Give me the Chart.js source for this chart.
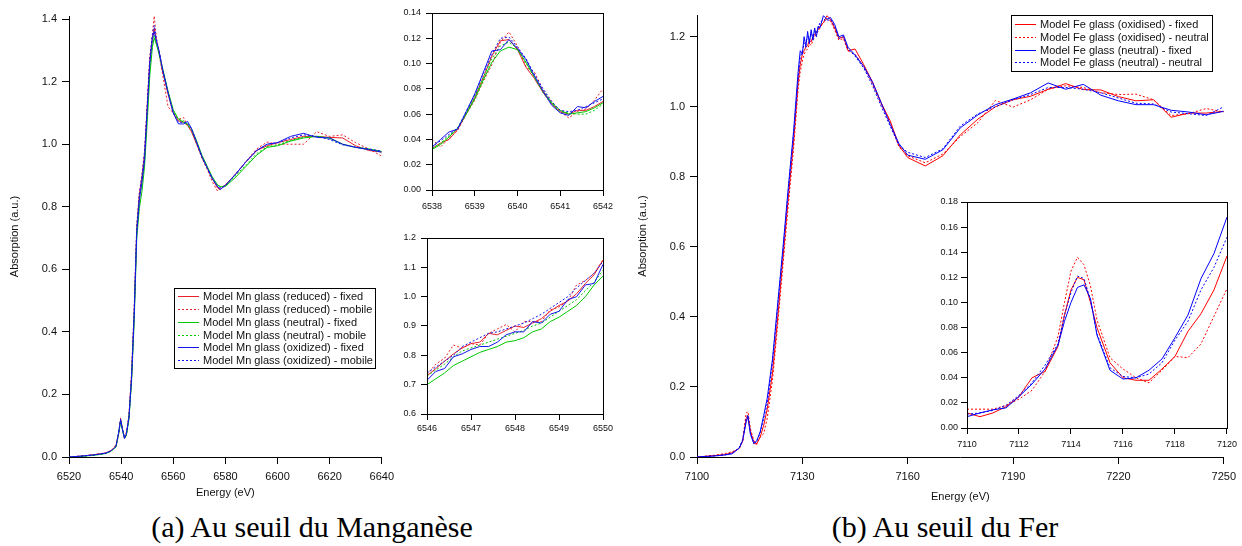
<!DOCTYPE html>
<html>
<head>
<meta charset="utf-8">
<script src="https://cdn.jsdelivr.net/npm/chart.js@4.4.1/dist/chart.umd.min.js"></script>
<style>
  body { margin: 0; background: #fff; }
  #page { position: relative; width: 1242px; height: 546px; overflow: hidden; background: #fff; }
  canvas { position: absolute; }
  .cap { position: absolute; top: 512px; font-family: "Liberation Serif", serif; font-size: 30px; line-height: 30px; color: #000; text-align: center; }
</style>
</head>
<body>
<div id="page">
  <canvas id="mnMain" width="400" height="510" style="left:0;top:0"></canvas>
  <canvas id="mnPre" width="230" height="215" style="left:390px;top:0"></canvas>
  <canvas id="mnEdge" width="230" height="215" style="left:390px;top:225px"></canvas>
  <canvas id="feMain" width="612" height="510" style="left:630px;top:0"></canvas>
  <canvas id="fePre" width="322" height="262" style="left:920px;top:190px"></canvas>
  <div class="cap" style="left:0;width:624px">(a) Au seuil du Manganèse</div>
  <div class="cap" style="left:644px;width:602px">(b) Au seuil du Fer</div>
</div>
<script>
// ---- Mn K-edge, full range ----
const mnE = [6520, 6525, 6530, 6534, 6536, 6537, 6538, 6539, 6539.8, 6540.5, 6541.3, 6542, 6543, 6544, 6545, 6546, 6547, 6548, 6549, 6550,
  6551, 6552, 6552.7, 6553.5, 6554.5, 6556, 6558, 6560, 6562, 6564, 6565.5, 6567, 6569, 6571, 6573, 6575, 6577, 6578, 6580, 6584,
  6588, 6592, 6596, 6600, 6605, 6610, 6615, 6620, 6625, 6630, 6635, 6640];
const mnRedFixed = [0, 0.003, 0.008, 0.013, 0.02, 0.027, 0.033, 0.073, 0.119, 0.09, 0.061, 0.072, 0.13, 0.26, 0.46, 0.73, 0.84, 0.90, 0.97, 1.12,
  1.27, 1.34, 1.37, 1.33, 1.30, 1.23, 1.16, 1.10, 1.075, 1.07, 1.06, 1.04, 1.0, 0.96, 0.925, 0.89, 0.86, 0.855, 0.87, 0.905,
  0.945, 0.98, 0.995, 1.005, 1.015, 1.025, 1.025, 1.022, 1.02, 0.995, 0.98, 0.975];
const mnRedMobile = [0, 0.003, 0.008, 0.013, 0.02, 0.027, 0.04, 0.071, 0.125, 0.09, 0.058, 0.08, 0.13, 0.27, 0.47, 0.735, 0.84, 0.88, 0.965, 1.125,
  1.28, 1.35, 1.41, 1.34, 1.29, 1.22, 1.12, 1.10, 1.08, 1.085, 1.06, 1.045, 1.0, 0.955, 0.92, 0.88, 0.85, 0.858, 0.87, 0.905,
  0.945, 0.985, 1.007, 1.0, 1.0, 1.0, 1.04, 1.025, 1.03, 1.005, 0.985, 0.962];
const mnGreenFixed = [0, 0.002, 0.006, 0.011, 0.018, 0.025, 0.032, 0.072, 0.113, 0.088, 0.06, 0.069, 0.12, 0.24, 0.43, 0.70, 0.795, 0.85, 0.93, 1.07,
  1.22, 1.31, 1.34, 1.32, 1.29, 1.24, 1.17, 1.11, 1.08, 1.07, 1.065, 1.05, 1.01, 0.965, 0.93, 0.895, 0.87, 0.865, 0.865, 0.895,
  0.93, 0.965, 0.99, 0.995, 1.01, 1.02, 1.025, 1.02, 1.0, 0.99, 0.985, 0.977];
const mnGreenMobile = [0, 0.002, 0.006, 0.011, 0.018, 0.025, 0.033, 0.072, 0.117, 0.088, 0.061, 0.068, 0.125, 0.25, 0.45, 0.73, 0.825, 0.875, 0.95, 1.09,
  1.24, 1.32, 1.35, 1.33, 1.29, 1.235, 1.165, 1.105, 1.08, 1.075, 1.06, 1.045, 1.005, 0.96, 0.925, 0.89, 0.868, 0.862, 0.868, 0.9,
  0.935, 0.97, 0.992, 0.998, 1.012, 1.022, 1.026, 1.018, 1.0, 0.99, 0.983, 0.975];
const mnBlueFixed = [0, 0.003, 0.007, 0.012, 0.019, 0.026, 0.034, 0.076, 0.119, 0.089, 0.059, 0.074, 0.125, 0.25, 0.45, 0.715, 0.82, 0.88, 0.95, 1.11,
  1.26, 1.34, 1.36, 1.33, 1.30, 1.235, 1.165, 1.10, 1.065, 1.065, 1.073, 1.05, 1.005, 0.96, 0.925, 0.89, 0.865, 0.855, 0.868, 0.905,
  0.945, 0.98, 1.0, 1.005, 1.025, 1.035, 1.022, 1.02, 1.0, 0.99, 0.983, 0.975];
const mnBlueMobile = [0, 0.003, 0.007, 0.012, 0.019, 0.026, 0.034, 0.075, 0.121, 0.09, 0.062, 0.072, 0.13, 0.26, 0.47, 0.74, 0.845, 0.90, 0.98, 1.12,
  1.27, 1.35, 1.38, 1.34, 1.30, 1.235, 1.165, 1.10, 1.07, 1.07, 1.068, 1.05, 1.005, 0.96, 0.925, 0.89, 0.865, 0.86, 0.868, 0.905,
  0.945, 0.98, 1.0, 1.005, 1.02, 1.03, 1.025, 1.015, 0.998, 0.99, 0.985, 0.978];

// ---- Mn pre-edge zoom ----
const mnPreE = [6538, 6538.2, 6538.4, 6538.6, 6538.8, 6539, 6539.2, 6539.4, 6539.6, 6539.8, 6540, 6540.2, 6540.4, 6540.6, 6540.8, 6541, 6541.2, 6541.4, 6541.6, 6541.8, 6542];
const preRedFixed = [0.033, 0.037, 0.040, 0.048, 0.060, 0.073, 0.089, 0.106, 0.118, 0.119, 0.111, 0.097, 0.088, 0.077, 0.068, 0.062, 0.060, 0.063, 0.063, 0.066, 0.070];
const preRedMobile = [0.040, 0.034, 0.041, 0.047, 0.060, 0.071, 0.086, 0.099, 0.117, 0.125, 0.114, 0.097, 0.093, 0.079, 0.070, 0.062, 0.057, 0.062, 0.064, 0.071, 0.080];
const preGreenFixed = [0.032, 0.036, 0.042, 0.049, 0.060, 0.072, 0.087, 0.101, 0.110, 0.113, 0.111, 0.101, 0.089, 0.078, 0.069, 0.063, 0.060, 0.061, 0.062, 0.065, 0.069];
const preGreenMobile = [0.033, 0.037, 0.043, 0.049, 0.061, 0.074, 0.089, 0.104, 0.114, 0.117, 0.112, 0.100, 0.089, 0.077, 0.068, 0.062, 0.061, 0.060, 0.060, 0.063, 0.068];
const preBlueFixed = [0.034, 0.040, 0.046, 0.048, 0.062, 0.076, 0.093, 0.110, 0.111, 0.119, 0.112, 0.103, 0.090, 0.078, 0.067, 0.061, 0.059, 0.066, 0.065, 0.070, 0.074];
const preBlueMobile = [0.034, 0.039, 0.044, 0.049, 0.062, 0.075, 0.092, 0.107, 0.120, 0.121, 0.113, 0.104, 0.091, 0.080, 0.070, 0.063, 0.062, 0.063, 0.066, 0.069, 0.072];

// ---- Mn edge zoom ----
const mnEdgeE = [6546, 6546.2, 6546.4, 6546.6, 6546.8, 6547, 6547.2, 6547.4, 6547.6, 6547.8, 6548, 6548.2, 6548.4, 6548.6, 6548.8, 6549, 6549.2, 6549.4, 6549.6, 6549.8, 6550];
const edgeRedFixed = [0.73, 0.755, 0.78, 0.805, 0.825, 0.84, 0.845, 0.875, 0.87, 0.885, 0.9, 0.895, 0.91, 0.925, 0.95, 0.97, 0.985, 1.01, 1.045, 1.075, 1.125];
const edgeRedMobile = [0.735, 0.77, 0.79, 0.835, 0.825, 0.84, 0.835, 0.875, 0.89, 0.905, 0.88, 0.915, 0.915, 0.915, 0.955, 0.965, 0.985, 1.04, 1.055, 1.08, 1.125];
const edgeGreenFixed = [0.70, 0.72, 0.74, 0.765, 0.78, 0.795, 0.81, 0.82, 0.83, 0.845, 0.85, 0.86, 0.88, 0.89, 0.915, 0.93, 0.95, 0.97, 1.0, 1.04, 1.07];
const edgeGreenMobile = [0.73, 0.75, 0.77, 0.795, 0.815, 0.825, 0.835, 0.845, 0.855, 0.865, 0.875, 0.885, 0.9, 0.91, 0.93, 0.95, 0.97, 0.99, 1.02, 1.05, 1.09];
const edgeBlueFixed = [0.715, 0.745, 0.755, 0.795, 0.805, 0.82, 0.83, 0.83, 0.845, 0.87, 0.88, 0.88, 0.915, 0.91, 0.94, 0.95, 0.99, 1.0, 1.04, 1.045, 1.11];
const edgeBlueMobile = [0.74, 0.76, 0.78, 0.80, 0.83, 0.845, 0.86, 0.875, 0.88, 0.89, 0.9, 0.91, 0.925, 0.94, 0.96, 0.98, 1.0, 1.03, 1.055, 1.08, 1.12];

// ---- Fe K-edge, full range ----
const feE = [7100, 7105, 7108, 7110, 7112, 7113, 7114, 7114.5, 7115.2, 7116.2, 7117, 7118, 7119, 7120, 7121.5, 7123, 7124.5, 7126, 7127.5, 7128.8,
  7129.4, 7130, 7130.5, 7131, 7131.5, 7132, 7132.5, 7133, 7133.5, 7134, 7134.5, 7135, 7136, 7137, 7138, 7139.2, 7140.4, 7141.7, 7143, 7145,
  7147.5, 7150, 7152.5, 7155, 7157.5, 7160, 7165, 7170, 7175, 7180, 7185, 7190, 7195, 7200, 7205, 7210, 7215, 7220, 7225, 7230,
  7235, 7240, 7245, 7250];
const feOxFixed = [0, 0.004, 0.007, 0.012, 0.025, 0.045, 0.11, 0.118, 0.075, 0.038, 0.038, 0.057, 0.091, 0.137, 0.24, 0.40, 0.57, 0.74, 0.90, 1.07,
  1.12, 1.15, 1.16, 1.17, 1.175, 1.19, 1.185, 1.2, 1.205, 1.215, 1.22, 1.23, 1.24, 1.26, 1.25, 1.225, 1.195, 1.2, 1.16, 1.165,
  1.12, 1.07, 1.01, 0.96, 0.89, 0.855, 0.831, 0.86, 0.92, 0.965, 1.0, 1.02, 1.03, 1.05, 1.066, 1.049, 1.048, 1.029, 1.017, 1.02,
  0.97, 0.982, 0.982, 0.987];
const feOxNeutral = [0, 0.005, 0.01, 0.015, 0.023, 0.045, 0.125, 0.13, 0.08, 0.047, 0.036, 0.057, 0.067, 0.111, 0.22, 0.38, 0.55, 0.72, 0.88, 1.05,
  1.1, 1.13, 1.15, 1.16, 1.165, 1.18, 1.175, 1.19, 1.2, 1.21, 1.215, 1.225, 1.24, 1.25, 1.245, 1.22, 1.19, 1.195, 1.16, 1.15,
  1.115, 1.065, 1.005, 0.955, 0.885, 0.86, 0.84, 0.865, 0.915, 0.955, 1.018, 0.999, 1.02, 1.05, 1.06, 1.055, 1.04, 1.035, 1.036, 1.02,
  0.975, 0.98, 0.995, 0.985];
const feNeFixed = [0, 0.003, 0.006, 0.009, 0.025, 0.047, 0.1, 0.114, 0.065, 0.038, 0.046, 0.072, 0.119, 0.168, 0.28, 0.44, 0.6, 0.77, 0.93, 1.1,
  1.16, 1.15, 1.2, 1.17, 1.215, 1.18, 1.22, 1.19, 1.225, 1.2, 1.23, 1.225, 1.26, 1.25, 1.255, 1.235, 1.2, 1.205, 1.17, 1.148,
  1.115, 1.07, 1.01, 0.95, 0.895, 0.862, 0.85, 0.877, 0.94, 0.977, 1.006, 1.022, 1.04, 1.068, 1.05, 1.064, 1.033, 1.017, 1.006, 1.006,
  0.99, 0.985, 0.977, 0.987];
const feNeNeutral = [0, 0.003, 0.006, 0.011, 0.026, 0.05, 0.108, 0.121, 0.07, 0.041, 0.043, 0.07, 0.11, 0.152, 0.27, 0.43, 0.59, 0.76, 0.92, 1.08,
  1.14, 1.16, 1.18, 1.185, 1.2, 1.19, 1.21, 1.2, 1.215, 1.21, 1.225, 1.24, 1.25, 1.245, 1.25, 1.23, 1.195, 1.2, 1.165, 1.145,
  1.11, 1.06, 1.0, 0.945, 0.89, 0.87, 0.855, 0.88, 0.945, 0.98, 1.0, 1.02, 1.035, 1.055, 1.055, 1.05, 1.04, 1.025, 1.01, 1.008,
  0.985, 0.98, 0.975, 1.0];

// ---- Fe pre-edge zoom ----
const fePreE = [7110, 7110.5, 7111, 7111.5, 7112, 7112.5, 7113, 7113.5, 7113.75, 7114, 7114.25, 7114.5, 7114.75, 7115, 7115.5, 7116, 7116.5, 7117, 7117.5, 7118, 7118.5, 7119, 7119.5, 7120];
const fpOxFixed = [0.012, 0.009, 0.012, 0.017, 0.025, 0.04, 0.045, 0.065, 0.09, 0.11, 0.12, 0.118, 0.1, 0.08, 0.052, 0.04, 0.038, 0.038, 0.047, 0.057, 0.077, 0.091, 0.11, 0.137];
const fpOxNeutral = [0.015, 0.015, 0.015, 0.018, 0.023, 0.03, 0.045, 0.073, 0.1, 0.125, 0.136, 0.13, 0.113, 0.086, 0.056, 0.047, 0.04, 0.036, 0.046, 0.057, 0.056, 0.067, 0.089, 0.111];
const fpNeFixed = [0.009, 0.012, 0.0145, 0.016, 0.025, 0.035, 0.047, 0.066, 0.085, 0.10, 0.112, 0.114, 0.103, 0.074, 0.046, 0.039, 0.04, 0.046, 0.055, 0.072, 0.09, 0.119, 0.139, 0.168];
const fpNeNeutral = [0.011, 0.012, 0.014, 0.018, 0.026, 0.036, 0.05, 0.067, 0.09, 0.108, 0.121, 0.119, 0.102, 0.075, 0.048, 0.041, 0.04, 0.043, 0.052, 0.07, 0.085, 0.11, 0.128, 0.152];

// ---- tick labels ----
const mnXTicks = [6520, 6540, 6560, 6580, 6600, 6620, 6640];
const mnYTicks = [0, 0.2, 0.4, 0.6, 0.8, 1.0, 1.2, 1.4];
const preXTicks = [6538, 6539, 6540, 6541, 6542];
const preYTicks = [0, 0.02, 0.04, 0.06, 0.08, 0.10, 0.12, 0.14];
const edgeXTicks = [6546, 6547, 6548, 6549, 6550];
const edgeYTicks = [0.6, 0.7, 0.8, 0.9, 1.0, 1.1, 1.2];
const feXTicks = [7100, 7130, 7160, 7190, 7220, 7250];
const feYTicks = [0, 0.2, 0.4, 0.6, 0.8, 1.0, 1.2];
const fePreXTicks = [7110, 7112, 7114, 7116, 7118, 7120];
const fePreYTicks = [0, 0.02, 0.04, 0.06, 0.08, 0.10, 0.12, 0.14, 0.16, 0.18];

const mnLabels = ['Model Mn glass (reduced) - fixed', 'Model Mn glass (reduced) - mobile', 'Model Mn glass (neutral) - fixed',
  'Model Mn glass (neutral) - mobile', 'Model Mn glass (oxidized) - fixed', 'Model Mn glass (oxidized) - mobile'];
const feLabels = ['Model Fe glass (oxidised) - fixed', 'Model Fe glass (oxidised) - neutral', 'Model Fe glass (neutral) - fixed', 'Model Fe glass (neutral) - neutral'];

const MN_RED = '#e8202a', MN_GREEN = '#00c800', MN_BLUE = '#1414f0';
const FE_RED = '#ff0000', FE_BLUE = '#0000ff';

Chart.defaults.font.family = '"Liberation Sans", Arial, sans-serif';
Chart.defaults.color = '#111';

function series(xs, ys, label, color, dashed, order) {
  return {
    label: label,
    data: xs.map((x, i) => ({ x: x, y: ys[i] })),
    borderColor: color, borderWidth: 1, borderDash: dashed ? [2, 2] : [],
    pointRadius: 0, tension: 0, fill: false, order: order
  };
}

function axis(o) {
  const horiz = o.pos === 'bottom';
  return {
    type: 'linear', position: o.pos, min: o.min, max: o.max,
    afterBuildTicks: s => { s.ticks = o.ticks.map(v => ({ value: v })); },
    afterFit: s => { if (horiz) s.height = o.size; else s.width = o.size; },
    border: { display: true, color: '#000', width: 1 },
    grid: { display: true, drawOnChartArea: false, drawTicks: true, tickLength: o.tick, tickColor: '#000', tickWidth: 1 },
    ticks: { font: { size: o.font }, padding: o.pad, maxRotation: 0, autoSkip: false, callback: v => v.toFixed(o.dec) },
    title: o.title ? { display: true, text: o.title, font: { size: 11 }, padding: horiz ? { top: 0, bottom: o.tpad } : { top: o.tpad, bottom: 0 } } : { display: false }
  };
}

// white box legend inside the plot
const boxLegend = {
  id: 'boxLegend',
  afterDraw(chart, args, o) {
    const ctx = chart.ctx;
    ctx.save();
    ctx.fillStyle = '#fff';
    ctx.fillRect(o.x, o.y, o.w, o.h);
    ctx.strokeStyle = '#000';
    ctx.lineWidth = 1;
    ctx.strokeRect(o.x + 0.5, o.y + 0.5, o.w, o.h);
    ctx.font = '11px "Liberation Sans", Arial, sans-serif';
    ctx.textBaseline = 'middle';
    chart.data.datasets.forEach((d, i) => {
      const y = Math.round(o.y + o.first + i * o.step);
      ctx.strokeStyle = d.borderColor;
      ctx.setLineDash(d.borderDash);
      ctx.beginPath();
      ctx.moveTo(o.x + o.l0, y + 0.5);
      ctx.lineTo(o.x + o.l1, y + 0.5);
      ctx.stroke();
      ctx.setLineDash([]);
      ctx.fillStyle = '#111';
      ctx.fillText(d.label, o.x + o.tx, y + 0.5);
    });
    ctx.restore();
  }
};

// closed frame for the zoomed panels
const frame = {
  id: 'frame',
  afterDraw(chart) {
    const a = chart.chartArea, c = chart.ctx;
    c.save();
    c.strokeStyle = '#000';
    c.lineWidth = 1;
    c.strokeRect(Math.round(a.left) + 0.5, Math.round(a.top) + 0.5, Math.round(a.right - a.left), Math.round(a.bottom - a.top));
    c.restore();
  }
};

function makeChart(id, datasets, x, y, padding, extra, legendOpts) {
  return new Chart(document.getElementById(id), {
    type: 'line',
    data: { datasets: datasets },
    options: {
      responsive: false, animation: false, devicePixelRatio: 1,
      layout: { padding: padding },
      scales: { x: axis(x), y: axis(y) },
      plugins: { legend: { display: false }, tooltip: { enabled: false }, boxLegend: legendOpts || {} }
    },
    plugins: extra
  });
}

function mnSets(xs, arrs) {
  const cols = [MN_RED, MN_RED, MN_GREEN, MN_GREEN, MN_BLUE, MN_BLUE];
  return arrs.map((a, i) => series(xs, a, mnLabels[i], cols[i], i % 2 === 1, 6 - i));
}
function feSets(xs, arrs) {
  const cols = [FE_RED, FE_RED, FE_BLUE, FE_BLUE];
  return arrs.map((a, i) => series(xs, a, feLabels[i], cols[i], i % 2 === 1, 4 - i));
}

// (a) Mn
makeChart('mnMain',
  mnSets(mnE, [mnRedFixed, mnRedMobile, mnGreenFixed, mnGreenMobile, mnBlueFixed, mnBlueMobile]),
  { pos: 'bottom', min: 6520, max: 6640, ticks: mnXTicks, dec: 0, size: 53, tick: 7, pad: 6, font: 11, title: 'Energy (eV)', tpad: 10 },
  { pos: 'left', min: 0, max: 1.41, ticks: mnYTicks, dec: 1, size: 69, tick: 7, pad: 5, font: 11, title: 'Absorption (a.u.)', tpad: 8 },
  { left: 0, top: 16, right: 12, bottom: 0 },
  [boxLegend],
  { x: 174, y: 288, w: 201, h: 80, first: 8.3, step: 12.75, l0: 4, l1: 25, tx: 29 });

makeChart('mnPre',
  mnSets(mnPreE, [preRedFixed, preRedMobile, preGreenFixed, preGreenMobile, preBlueFixed, preBlueMobile]),
  { pos: 'bottom', min: 6538, max: 6542, ticks: preXTicks, dec: 0, size: 25, tick: 6, pad: 5, font: 9 },
  { pos: 'left', min: 0, max: 0.14, ticks: preYTicks, dec: 2, size: 42, tick: 6, pad: 5, font: 9 },
  { left: 0, top: 13, right: 17, bottom: 0 },
  [frame]);

makeChart('mnEdge',
  mnSets(mnEdgeE, [edgeRedFixed, edgeRedMobile, edgeGreenFixed, edgeGreenMobile, edgeBlueFixed, edgeBlueMobile]),
  { pos: 'bottom', min: 6546, max: 6550, ticks: edgeXTicks, dec: 0, size: 26, tick: 6, pad: 3, font: 9 },
  { pos: 'left', min: 0.6, max: 1.2, ticks: edgeYTicks, dec: 1, size: 37, tick: 6, pad: 5, font: 9 },
  { left: 0, top: 13, right: 17, bottom: 0 },
  [frame]);

// (b) Fe
makeChart('feMain',
  feSets(feE, [feOxFixed, feOxNeutral, feNeFixed, feNeNeutral]),
  { pos: 'bottom', min: 7100, max: 7250, ticks: feXTicks, dec: 0, size: 53, tick: 7, pad: 6, font: 11, title: 'Energy (eV)', tpad: 6 },
  { pos: 'left', min: 0, max: 1.262, ticks: feYTicks, dec: 1, size: 67, tick: 7, pad: 5, font: 11, title: 'Absorption (a.u.)', tpad: 6 },
  { left: 0, top: 15, right: 14, bottom: 0 },
  [boxLegend],
  { x: 381, y: 15, w: 201, h: 56, first: 9, step: 12.8, l0: 4, l1: 25, tx: 29 });

makeChart('fePre',
  feSets(fePreE, [fpOxFixed, fpOxNeutral, fpNeFixed, fpNeNeutral]),
  { pos: 'bottom', min: 7110, max: 7120, ticks: fePreXTicks, dec: 0, size: 24, tick: 6, pad: 5, font: 9 },
  { pos: 'left', min: 0, max: 0.18, ticks: fePreYTicks, dec: 2, size: 47, tick: 6, pad: 3, font: 9 },
  { left: 0, top: 12, right: 11, bottom: 0 },
  [frame]);
</script>
</body>
</html>
